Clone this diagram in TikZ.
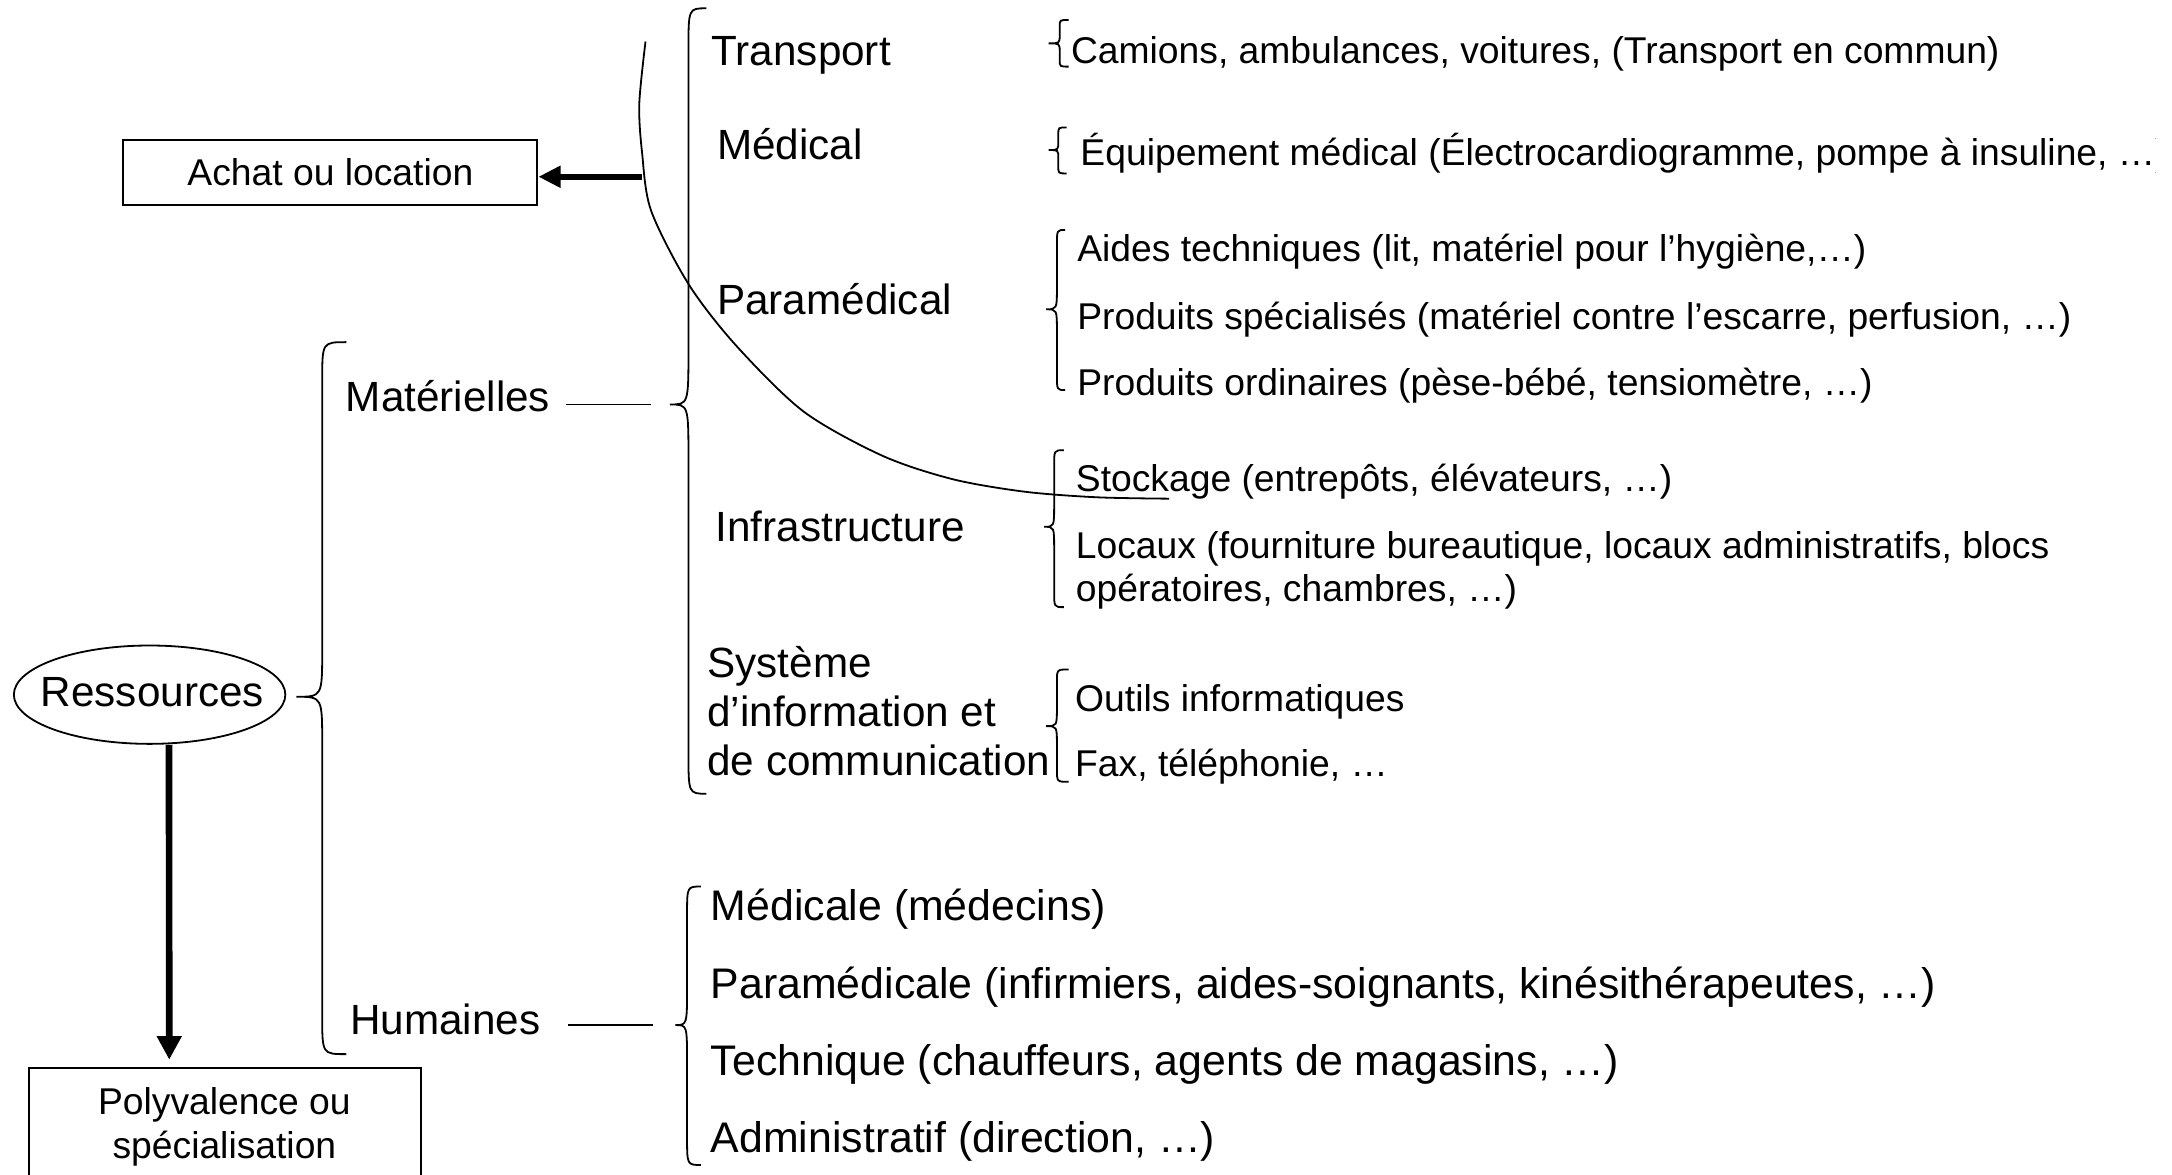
\documentclass[tikz,border=0pt]{standalone}
\usepackage{fontspec}
\setmainfont{Liberation Sans}
\usetikzlibrary{arrows.meta,shapes.geometric}

\tikzset{
  bigfont/.style={font=\fontsize{30.5pt}{36pt}\selectfont},
  hfont/.style={font=\fontsize{30.9pt}{36pt}\selectfont},
  smallfont/.style={font=\fontsize{26.9pt}{32pt}\selectfont},
  lab/.style={bigfont, inner sep=0pt, anchor=base west},
  hlab/.style={hfont, inner sep=0pt, anchor=base west},
  item/.style={smallfont, inner sep=0pt, anchor=base west},
  thinline/.style={line width=1.3pt},
  boxed/.style={draw, line width=1.4pt, rectangle, inner sep=0pt},
  heavy/.style={line width=4.8pt, -{Triangle[length=17pt,width=17pt]}},
  heavyleft/.style={line width=4.6pt, -{Triangle[length=16pt,width=15pt]}},
}

% curly brace opening to the right:
% #1 tip x, #2 tip y, #3 stem x, #4 hook x, #5 top y, #6 bottom y, #7 hook bend, #8 tip bend
\newcommand\curlybrace[8]{%
  \draw[thinline] (#4,#5) .. controls (#3,#5) .. (#3,{#5+#7})
    -- (#3,{#2-#8}) .. controls (#3,#2) .. (#1,#2)
    .. controls (#3,#2) .. (#3,{#2+#8})
    -- (#3,{#6-#7}) .. controls (#3,#6) .. (#4,#6);}

\begin{document}
\begin{tikzpicture}[x=1pt,y=-1pt]
\useasboundingbox (0,0) rectangle (1568,848);
\clip (0,0) rectangle (1556,848);

% root and its two groups
\node[draw, ellipse, thinline, minimum width=196pt, minimum height=71pt, inner sep=0pt] (ress) at (108,501.5) {};
\node[bigfont, inner sep=0pt, anchor=base] (resstxt) at (110,510) {Ressources};
\curlybrace{214}{503}{232.6}{250}{247}{761}{28}{34}
\node[lab] (mat) at (249.5,297) {Matérielles};
\node[lab] (hum) at (252.5,747) {Humaines};

% material resources
\coordinate (bM) at (483.6,292);
\curlybrace{483.6}{292}{497}{510}{6}{573}{30}{40}
\draw[thinline, shorten <=11pt, shorten >=14pt] (mat.east |- bM) -- (bM);

\node[lab] (transp) at (513.5,47.5) {Transport};
\node[lab] (medic) at (517.5,115.5) {Médical};
\node[lab] (param) at (517.5,227.4) {Paramédical};
\node[lab] (infra) at (516.5,391) {Infrastructure};
\node[lab] (sysA) at (510.5,489) {Système};
\node[lab] (sysB) at (510.5,524.5) {d’information et};
\node[lab] (sysC) at (510.5,560) {de communication};

\curlybrace{757}{31.3}{765}{771.4}{14.4}{48.1}{5}{6}
\node[item] (cam) at (773,46) {Camions, ambulances, voitures, (Transport en commun)};

\curlybrace{757}{108.3}{764}{770}{92}{125.2}{5}{6}
\node[item] (equip) at (779.8,119.3) {Équipement médical (Électrocardiogramme, pompe à insuline, …)};

\curlybrace{755.2}{223.3}{763}{769}{166}{281.6}{11}{16}
\node[item] (aides) at (777.5,189) {Aides techniques (lit, matériel pour l’hygiène,…)};
\node[item] (pspec) at (777.5,237.8) {Produits spécialisés (matériel contre l’escarre, perfusion, …)};
\node[item] (pord) at (777.5,285.2) {Produits ordinaires (pèse-bébé, tensiomètre, …)};

\curlybrace{753.8}{380.3}{761}{768}{325}{438.3}{11}{16}
\node[item] (stock) at (776.5,355) {Stockage (entrepôts, élévateurs, …)};
\node[item] (locA) at (776.5,403) {Locaux (fourniture bureautique, locaux administratifs, blocs};
\node[item] (locB) at (776.5,434.5) {opératoires, chambres, …)};

\curlybrace{755.2}{524.2}{763}{771.4}{483.3}{564.4}{9}{14}
\node[item] (outil) at (776,513.8) {Outils informatiques};
\node[item] (fax) at (776,560.8) {Fax, téléphonie, …};

% human resources
\coordinate (bH) at (487.5,740);
\curlybrace{487.5}{740}{496}{506}{640}{841}{20}{28}
\draw[thinline, shorten <=20pt, shorten >=16pt] (hum.east |- bH) -- (bH);

\node[hlab] (hmed) at (513,664.7) {Médicale (médecins)};
\node[hlab] (hpar) at (513,720.7) {Paramédicale (infirmiers, aides-soignants, kinésithérapeutes, …)};
\node[hlab] (htec) at (513,776.7) {Technique (chauffeurs, agents de magasins, …)};
\node[hlab] (hadm) at (513,831.7) {Administratif (direction, …)};

% purchase or rental of the equipment
\node[boxed, smallfont, minimum width=299pt, minimum height=47pt] (achat) at (238.5,124.5) {Achat ou location};
\draw[thinline] plot[smooth] coordinates {(466,30) (461.5,75) (463.5,110) (470,152) (497,205) (531,249) (580,297) (637,329) (688,346) (740,355) (792,359) (844,360)};
\coordinate (k) at (463.5,127.6);
\draw[heavyleft] (k) -- (achat.east |- k);

% versatility or specialisation of the staff
\node[boxed, minimum width=283pt, minimum height=120pt, anchor=north west] (poly) at (20,770) {};
\node[item, anchor=base] (polyA) at (162,804.6) {Polyvalence ou};
\node[item, anchor=base] (polyB) at (162,836) {spécialisation};
\draw[heavy, shorten >=5pt] ([xshift=14pt]ress.south) -- ([xshift=-40pt]poly.north);
\end{tikzpicture}
\end{document}
